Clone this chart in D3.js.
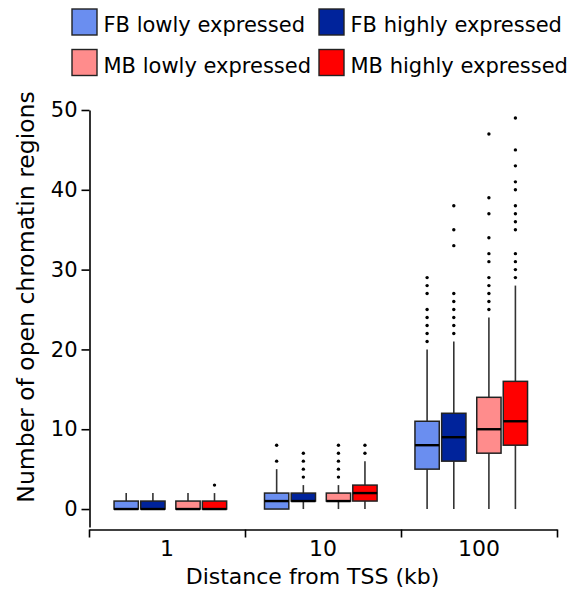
<!DOCTYPE html>
<html>
<head>
<meta charset="utf-8">
<script src="https://cdn.jsdelivr.net/npm/d3@7/dist/d3.min.js"></script>
<style>
  html, body { margin: 0; padding: 0; background: #fff; }
  svg { display: block; font-family: "DejaVu Sans", Verdana, sans-serif; }
</style>
</head>
<body>
<svg id="chart" width="572" height="594"></svg>
<script>
// ---- data ----
const groups = ["1", "10", "100"];
const series = ["FB lowly expressed", "FB highly expressed", "MB lowly expressed", "MB highly expressed"];
const colors = ["#6A8EF0", "#00239B", "#FF8C8C", "#FF0000"];
// stats indexed [group][series]
const q1 = [[0, 0, 0, 0], [0, 1, 1, 1], [5, 6, 7, 8]];
const median = [[0, 0, 0, 0], [1, 1, 1, 2], [8, 9, 10, 11]];
const q3 = [[1, 1, 1, 1], [2, 2, 2, 3], [11, 12, 14, 16]];
const whiskerLow = [[0, 0, 0, 0], [0, 0, 0, 0], [0, 0, 0, 0]];
const whiskerHigh = [[2, 2, 2, 2], [5, 3, 3, 6], [20, 21, 24, 28]];
const outliers = [
  [[], [], [], [3]],
  [[6, 8], [4, 5, 6, 7], [4, 5, 6, 7, 8], [7, 8]],
  [[21, 22, 23, 24, 25, 27, 28, 29],
   [22, 23, 24, 25, 26, 27, 33, 35, 38],
   [25, 26, 27, 28, 29, 31, 32, 34, 37, 39, 47],
   [29, 30, 31, 32, 35, 36, 37, 38, 40, 41, 43, 45, 49]]
];
const yTicks = [0, 10, 20, 30, 40, 50];

// ---- layout ----
const svg = d3.select("#chart");
const FONT = 21;
const y = d3.scaleLinear().domain([-2.25, 50]).range([527, 110]);
const xAxisScale = d3.scaleLinear().domain([0, 3]).range([89, 557]);
const groupCenter = d3.scaleLinear().domain([0, 2]).range([170.3, 471.2]);
const seriesOffset = [-44.1, -17.4, 17.7, 44.2];
const boxW = 24.3;

// y axis
const yAxis = svg.append("g")
  .attr("transform", "translate(89.5,0)")
  .call(d3.axisLeft(y).tickValues(yTicks).tickSizeInner(8).tickSizeOuter(0).tickPadding(4));
yAxis.selectAll("path.domain").attr("stroke", "#000").attr("stroke-width", 1.6);
yAxis.selectAll(".tick line").attr("stroke", "#000").attr("stroke-width", 1.6);
yAxis.selectAll(".tick text").attr("font-size", FONT).attr("font-family", "DejaVu Sans, Verdana, sans-serif").attr("fill", "#000");

// x axis
const xAxis = svg.append("g")
  .attr("transform", "translate(0,529.5)")
  .call(d3.axisBottom(xAxisScale).tickValues([0, 1, 2, 3]).tickSizeInner(8).tickSizeOuter(0).tickFormat(""));
xAxis.selectAll("path.domain").attr("stroke", "#000").attr("stroke-width", 1.6);
xAxis.selectAll(".tick line").attr("stroke", "#000").attr("stroke-width", 1.6);
svg.append("g").selectAll("text").data(groups).join("text")
  .attr("x", (d, i) => xAxisScale(i + 0.5))
  .attr("y", 555.5)
  .attr("text-anchor", "middle")
  .attr("font-size", 22)
  .text(d => d);

// axis titles
svg.append("text")
  .attr("x", 312.5).attr("y", 583.5)
  .attr("text-anchor", "middle").attr("font-size", 22)
  .text("Distance from TSS (kb)");
svg.append("text")
  .attr("transform", "translate(34,297) rotate(-90)")
  .attr("text-anchor", "middle").attr("font-size", 23.5)
  .text("Number of open chromatin regions");

// boxes
const boxes = [];
groups.forEach((g, gi) => series.forEach((s, si) => boxes.push({ gi, si })));
const bg = svg.append("g").selectAll("g").data(boxes).join("g");
const cx = d => groupCenter(d.gi) + seriesOffset[d.si];

// whiskers
bg.append("line")
  .attr("x1", cx).attr("x2", cx)
  .attr("y1", d => y(q3[d.gi][d.si])).attr("y2", d => y(whiskerHigh[d.gi][d.si]))
  .attr("stroke", "#333").attr("stroke-width", 1.6);
bg.append("line")
  .attr("x1", cx).attr("x2", cx)
  .attr("y1", d => y(q1[d.gi][d.si])).attr("y2", d => y(whiskerLow[d.gi][d.si]))
  .attr("stroke", "#333").attr("stroke-width", 1.6);
// box
bg.append("rect")
  .attr("x", d => cx(d) - boxW / 2)
  .attr("width", boxW)
  .attr("y", d => y(q3[d.gi][d.si]))
  .attr("height", d => y(q1[d.gi][d.si]) - y(q3[d.gi][d.si]))
  .attr("fill", d => colors[d.si])
  .attr("stroke", "#222").attr("stroke-width", 1.5);
// median
bg.append("line")
  .attr("x1", d => cx(d) - boxW / 2).attr("x2", d => cx(d) + boxW / 2)
  .attr("y1", d => y(median[d.gi][d.si])).attr("y2", d => y(median[d.gi][d.si]))
  .attr("stroke", "#000").attr("stroke-width", 2.4);
// outliers
bg.selectAll("circle").data(d => outliers[d.gi][d.si].map(v => ({ v, d }))).join("circle")
  .attr("cx", o => cx(o.d))
  .attr("cy", o => y(o.v))
  .attr("r", 1.7)
  .attr("fill", "#000");

// legend
const legendPos = [[72, 9], [319, 9], [72, 49.5], [319, 49.5]];
const lg = svg.append("g").selectAll("g").data(series).join("g")
  .attr("transform", (d, i) => `translate(${legendPos[i][0]},${legendPos[i][1]})`);
lg.append("rect")
  .attr("width", 25).attr("height", 26)
  .attr("fill", (d, i) => colors[i])
  .attr("stroke", "#222").attr("stroke-width", 1.4);
lg.append("text")
  .attr("x", 31.5).attr("y", 23)
  .attr("font-size", FONT)
  .text(d => d);
</script>
</body>
</html>
